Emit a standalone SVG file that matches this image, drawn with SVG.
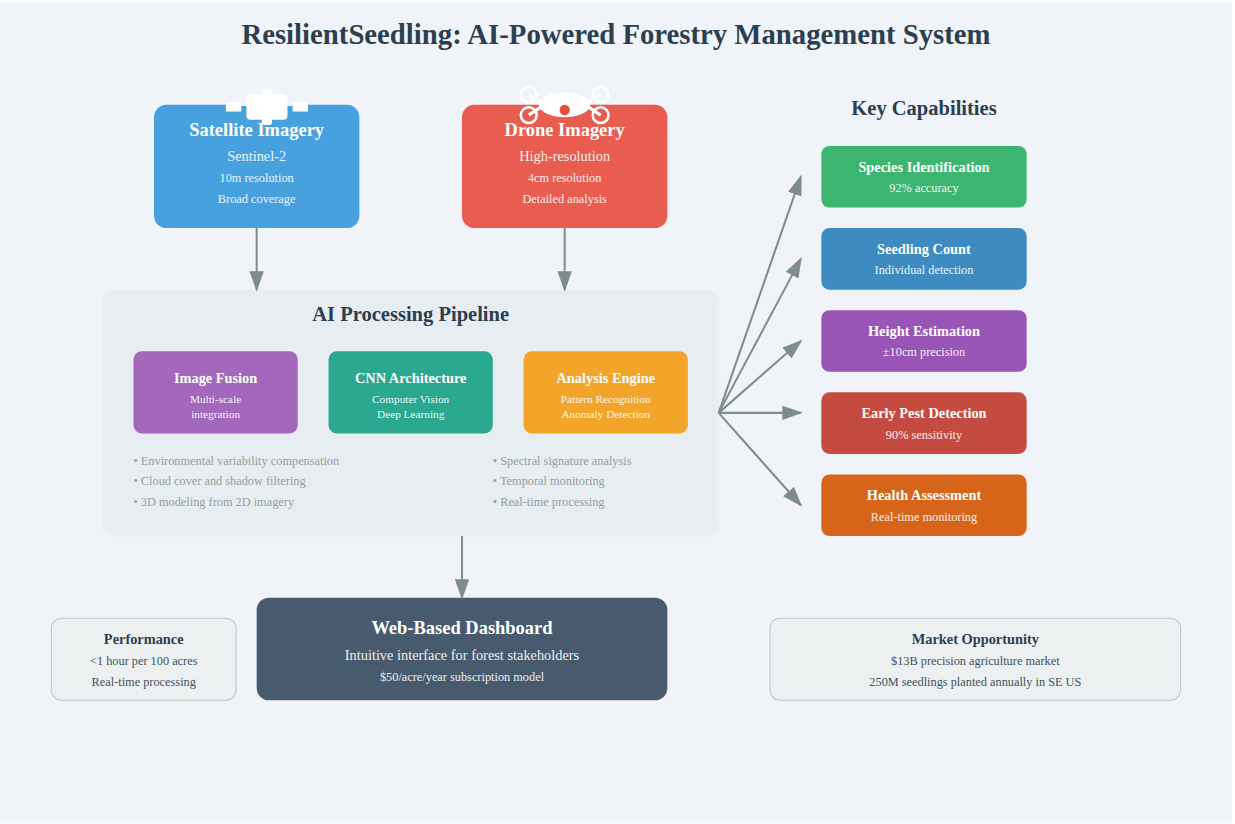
<svg xmlns="http://www.w3.org/2000/svg" width="1235" height="824" viewBox="0 0 1235 824">
<style>
text{font-family:"Liberation Serif","Times New Roman",serif;text-anchor:middle;fill:#fff}
.t28{font-size:28px;font-weight:bold;fill:#2c3e50}
.t20{font-size:20px;font-weight:bold;fill:#2c3e50}
.t18{font-size:18px;font-weight:bold}
.t14b{font-size:14px;font-weight:bold}
.t14{font-size:14px;opacity:.9}
.t12{font-size:12px;opacity:.9}
.t11{font-size:11px;opacity:.9}
.bl{font-size:12px;fill:#7f8c8d;text-anchor:start;opacity:.8}
text.dk{fill:#2c3e50}
.conn{stroke:#7f8c8d;stroke-width:2;fill:none;marker-end:url(#ah)}
.wh{fill:#fff}
.rot{fill:none;stroke:#fff;stroke-width:2.5}
.note{fill:#ecf0f1;stroke:#bdc3c7;stroke-width:1}
</style>
<defs><marker id="ah" markerWidth="10" markerHeight="7" refX="9" refY="3.5" orient="auto"><polygon points="0 0,10 3.5,0 7" fill="#7f8c8d"/></marker></defs>
<rect x="0" y="0" width="1235" height="824" fill="#fff"/>
<g transform="translate(0,2.2) scale(1.02667)">
<rect id="background" width="1200" height="800" fill="#f0f4f8"/>
<text id="title" class="t28" x="600" y="40.5">ResilientSeedling: AI-Powered Forestry Management System</text>
<g id="satellite">
<rect x="150" y="100" width="200" height="120" rx="12" fill="#3498db" opacity=".9"/>
<g class="wh"><rect x="240" y="89.5" width="40" height="25" rx="4"/><rect x="255" y="84.5" width="10" height="7" rx="2"/><rect x="255" y="112.5" width="10" height="7" rx="2"/><rect x="220" y="97.5" width="15" height="9"/><rect x="285" y="97.5" width="15" height="9"/><rect x="235" y="99.6" width="50" height="1.5"/></g>
<text class="t18" x="250" y="130">Satellite Imagery</text>
<text class="t14" x="250" y="155">Sentinel-2</text>
<text class="t12" x="250" y="175">10m resolution</text>
<text class="t12" x="250" y="195.5">Broad coverage</text>
</g>
<g id="drone">
<rect x="450" y="100" width="200" height="120" rx="12" fill="#e74c3c" opacity=".9"/>
<ellipse class="wh" cx="550" cy="100" rx="25" ry="12"/>
<circle cx="550" cy="105" r="5" fill="#e74c3c"/>
<g class="rot"><circle cx="515" cy="90" r="7.7"/><circle cx="585" cy="90" r="7.7"/><circle cx="515" cy="110" r="7.7"/><circle cx="585" cy="110" r="7.7"/><path stroke-width="3" d="M515 90L530 100M585 90L570 100M515 110L530 100M585 110L570 100"/></g>
<text class="t18" x="550" y="130">Drone Imagery</text>
<text class="t14" x="550" y="155">High-resolution</text>
<text class="t12" x="550" y="175">4cm resolution</text>
<text class="t12" x="550" y="195.5">Detailed analysis</text>
</g>
<g id="pipeline">
<rect x="99.5" y="279.5" width="601" height="241" rx="15" fill="#e8edf1" stroke="#ebeff3" stroke-width="1"/>
<text class="t20" x="400" y="310.7">AI Processing Pipeline</text>
<text class="bl" x="130" y="450.5">• Environmental variability compensation</text>
<text class="bl" x="130" y="470.5">• Cloud cover and shadow filtering</text>
<text class="bl" x="130" y="490.5">• 3D modeling from 2D imagery</text>
<text class="bl" x="480" y="450.5">• Spectral signature analysis</text>
<text class="bl" x="480" y="470.5">• Temporal monitoring</text>
<text class="bl" x="480" y="490.5">• Real-time processing</text>
</g>
<g id="image-fusion"><rect x="130" y="340" width="160" height="80" rx="8" fill="#9b59b6" opacity=".9"/><text class="t14b" x="210" y="371">Image Fusion</text><text class="t11" x="210" y="390">Multi-scale</text><text class="t11" x="210" y="405">integration</text></g>
<g id="cnn"><rect x="320" y="340" width="160" height="80" rx="8" fill="#16a085" opacity=".9"/><text class="t14b" x="400" y="371">CNN Architecture</text><text class="t11" x="400" y="390">Computer Vision</text><text class="t11" x="400" y="405">Deep Learning</text></g>
<g id="analysis"><rect x="510" y="340" width="160" height="80" rx="8" fill="#f39c12" opacity=".9"/><text class="t14b" x="590" y="371">Analysis Engine</text><text class="t11" x="590" y="390">Pattern Recognition</text><text class="t11" x="590" y="405">Anomaly Detection</text></g>
<text id="caps-title" class="t20" x="900" y="110.2">Key Capabilities</text>
<g id="cap1"><rect x="800" y="140" width="200" height="60" rx="8" fill="#27ae60" opacity=".9"/><text class="t14b" x="900" y="165">Species Identification</text><text class="t12" x="900" y="185">92% accuracy</text></g>
<g id="cap2"><rect x="800" y="220" width="200" height="60" rx="8" fill="#2980b9" opacity=".9"/><text class="t14b" x="900" y="245">Seedling Count</text><text class="t12" x="900" y="265">Individual detection</text></g>
<g id="cap3"><rect x="800" y="300" width="200" height="60" rx="8" fill="#8e44ad" opacity=".9"/><text class="t14b" x="900" y="325">Height Estimation</text><text class="t12" x="900" y="345">±10cm precision</text></g>
<g id="cap4"><rect x="800" y="380" width="200" height="60" rx="8" fill="#c0392b" opacity=".9"/><text class="t14b" x="900" y="405">Early Pest Detection</text><text class="t12" x="900" y="425">90% sensitivity</text></g>
<g id="cap5"><rect x="800" y="460" width="200" height="60" rx="8" fill="#d35400" opacity=".9"/><text class="t14b" x="900" y="485">Health Assessment</text><text class="t12" x="900" y="505">Real-time monitoring</text></g>
<g id="dashboard"><rect x="250" y="580" width="400" height="100" rx="12" fill="#34495e" opacity=".9"/><text class="t18" x="450" y="615">Web-Based Dashboard</text><text class="t14" x="450" y="640.7">Intuitive interface for forest stakeholders</text><text class="t12" x="450" y="660.7">$50/acre/year subscription model</text></g>
<g id="performance"><rect class="note" x="50" y="600" width="180" height="80" rx="10"/><text class="t14b dk" x="140" y="625">Performance</text><text class="t12 dk" x="140" y="645.5">&lt;1 hour per 100 acres</text><text class="t12 dk" x="140" y="665.8">Real-time processing</text></g>
<g id="market"><rect class="note" x="750" y="600" width="400" height="80" rx="10"/><text class="t14b dk" x="950" y="625">Market Opportunity</text><text class="t12 dk" x="950" y="645.5">$13B precision agriculture market</text><text class="t12 dk" x="950" y="665.8">250M seedlings planted annually in SE US</text></g>
<g id="connectors">
<line class="conn" x1="250" y1="220" x2="250" y2="280"/>
<line class="conn" x1="550" y1="220" x2="550" y2="280"/>
<line class="conn" x1="700" y1="400" x2="780" y2="170"/>
<line class="conn" x1="700" y1="400" x2="780" y2="250"/>
<line class="conn" x1="700" y1="400" x2="780" y2="330"/>
<line class="conn" x1="700" y1="400" x2="780" y2="400"/>
<line class="conn" x1="700" y1="400" x2="780" y2="490"/>
<line class="conn" x1="450" y1="520" x2="450" y2="580"/>
</g>
</g>
</svg>
